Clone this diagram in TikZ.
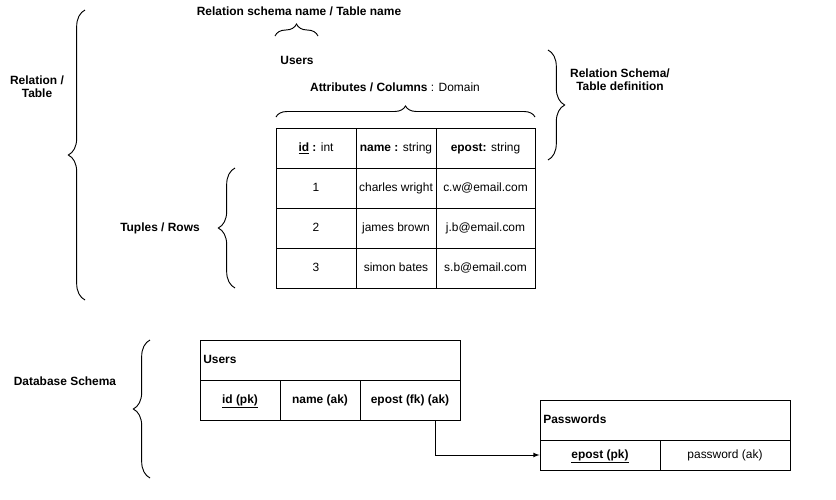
\documentclass[tikz,border=0pt]{standalone}
\usepackage{fontspec}
\setmainfont{Liberation Sans}
\usetikzlibrary{decorations.pathreplacing}

\begin{document}
\begin{tikzpicture}[x=0.03cm, y=-0.03cm, line width=0.8pt, font=\fontsize{10.2}{11}\selectfont]
\tikzstyle{cell} = [draw, minimum height=1.2cm, inner sep=0pt, text height=7.4pt, text depth=2.1pt]
\tikzstyle{lbl} = [font=\fontsize{10.2}{11}\selectfont\bfseries, align=center]
\tikzstyle{curly} = [decorate, decoration={brace, amplitude=0.5cm}]
\useasboundingbox (0,0) rectangle (836,499);

% relation with its tuples
\node[cell, minimum width=2.4cm] (hid) at (316,148) {\textbf{\underline{id} :} int};
\node[cell, minimum width=2.4cm] (hname) at (396,148) {\textbf{name :} string};
\node[cell, minimum width=2.97cm] (hepost) at (485.5,148) {\textbf{epost:} string};
\node[cell, minimum width=2.4cm] (id1) at (316,188) {1};
\node[cell, minimum width=2.4cm] (name1) at (396,188) {charles wright};
\node[cell, minimum width=2.97cm] (epost1) at (485.5,188) {c.w@email.com};
\node[cell, minimum width=2.4cm] (id2) at (316,228) {2};
\node[cell, minimum width=2.4cm] (name2) at (396,228) {james brown};
\node[cell, minimum width=2.97cm] (epost2) at (485.5,228) {j.b@email.com};
\node[cell, minimum width=2.4cm] (id3) at (316,268) {3};
\node[cell, minimum width=2.4cm] (name3) at (396,268) {simon bates};
\node[cell, minimum width=2.97cm] (epost3) at (485.5,268) {s.b@email.com};

% labels
\node[lbl] (reltab) at (37,87) {Relation /\\Table};
\node[lbl] (schname) at (299,11) {Relation schema name / Table name};
\node[lbl] (tname) at (297,60) {Users};
\node[lbl] (attrs) at (395,87) {Attributes / Columns \mdseries: Domain};
\node[lbl] (reldef) at (620,80) {Relation Schema/\\Table definition};
\node[lbl] (tuples) at (160,228) {Tuples / Rows};
\node[lbl] (dbschema) at (65,381) {Database Schema};

% braces
\draw[curly] (85,300) -- (85,10);
\draw[curly, decoration={amplitude=0.36cm}] (275,36) -- (318,36);
\draw[curly, decoration={amplitude=0.33cm}] (276,117) -- (535,117);
\draw[curly] (548,50) -- (548,160);
\draw[curly] (235,288) -- (235,168);
\draw[curly] (150,478) -- (150,340);

% database schema
\node[cell, minimum width=7.8cm, text width=7.6cm, align=left] (users) at (330,360) {\textbf{Users}};
\node[cell, minimum width=2.4cm] (uid) at (240,400) {\textbf{\underline{id (pk)}}};
\node[cell, minimum width=2.4cm] (uname) at (320,400) {\textbf{name (ak)}};
\node[cell, minimum width=3cm] (uepost) at (410,400) {\textbf{epost (fk) (ak)}};
\node[cell, minimum width=7.5cm, text width=7.3cm, align=left] (passwords) at (665,420) {\textbf{Passwords}};
\node[cell, minimum width=3.6cm, minimum height=0.9cm] (pepost) at (600,455) {\textbf{\underline{epost (pk)}}};
\node[cell, minimum width=3.9cm, minimum height=0.9cm] (ppass) at (725,455) {password (ak)};

\draw[-latex] ([xshift=0.75cm]uepost.south) |- (pepost.west);
\end{tikzpicture}
\end{document}
